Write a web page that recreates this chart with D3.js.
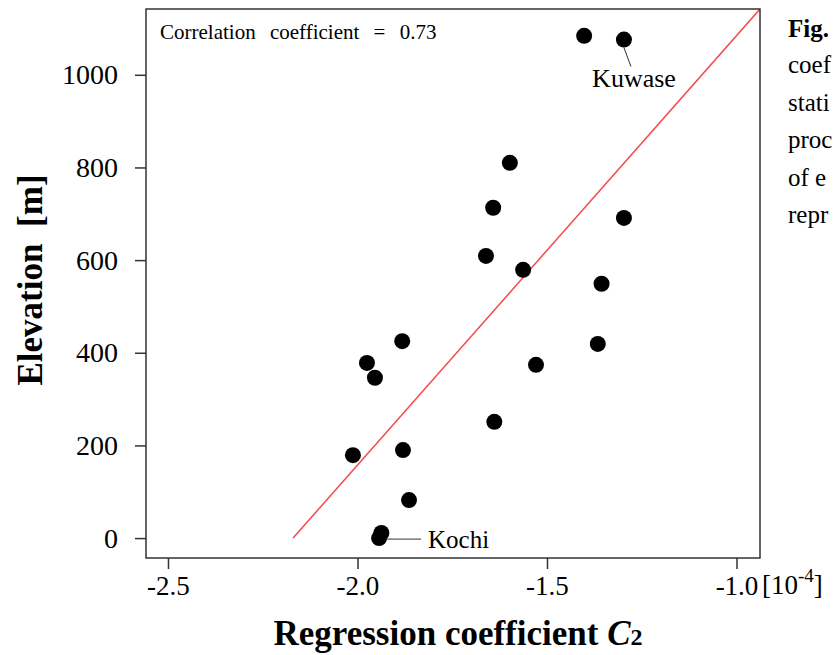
<!DOCTYPE html>
<html>
<head>
<meta charset="utf-8" />
<script src="https://d3js.org/d3.v7.min.js"></script>
<style>
  body { margin: 0; background: #fff; }
  svg text { font-family: 'Liberation Serif', 'Times New Roman', serif; }
</style>
</head>
<body>
<div id="graph"></div>
<script>
  // regression coefficient C2 [10^-4] vs elevation [m]
  var coefX = [-1.402, -1.297, -1.598, -1.642, -1.297, -1.661, -1.563, -1.356, -1.882, -1.975,
               -1.954, -1.366, -1.529, -1.639, -2.012, -1.880, -1.864, -1.937, -1.943]
  var elevY = [1084, 1076, 810, 713, 691, 609, 579, 549, 425, 378,
               346, 419, 374, 251, 179, 190, 82, 11, 0]
  var fitX = [-2.17, -0.938]
  var fitY = [0, 1142]
  var xTicks = [-2.5, -2.0, -1.5, -1.0]
  var yTicks = [0, 200, 400, 600, 800, 1000]
  // caption beside the figure, cut by the page edge
  var captionLines = ['coef', 'stati', 'proc', 'of e', 'repr']

  var box = {left: 146, top: 9, right: 760, bottom: 558}

  var svg = d3.select('#graph').append('svg')
    .attr('width', 835)
    .attr('height', 655)

  var x = d3.scaleLinear().domain([-2.558, -0.938]).range([box.left, box.right])
  var y = d3.scaleLinear().domain([-43, 1142]).range([box.bottom, box.top])

  svg.append('clipPath').attr('id', 'clip')
    .append('rect')
    .attr('x', box.left).attr('y', box.top)
    .attr('width', box.right - box.left).attr('height', box.bottom - box.top)

  // regression line
  svg.append('path')
    .attr('clip-path', 'url(#clip)')
    .attr('d', d3.line()(fitX.map(function (d, i) { return [x(d), y(fitY[i])] })))
    .attr('stroke', '#f5494b')
    .attr('stroke-width', 1.5)
    .attr('fill', 'none')

  // points
  svg.selectAll('circle')
    .data(coefX)
    .enter()
    .append('circle')
    .attr('cx', function (d) { return x(d) })
    .attr('cy', function (d, i) { return y(elevY[i]) })
    .attr('r', 8)
    .attr('fill', '#000')

  // frame
  svg.append('rect')
    .attr('x', box.left).attr('y', box.top)
    .attr('width', box.right - box.left).attr('height', box.bottom - box.top)
    .attr('fill', 'none')
    .attr('stroke', '#333')
    .attr('stroke-width', 1.5)

  // axes
  var xAxis = svg.append('g')
    .attr('transform', 'translate(0,' + box.bottom + ')')
    .call(d3.axisBottom(x).tickValues(xTicks).tickSize(11))
  xAxis.select('.domain').remove()
  xAxis.selectAll('line').attr('stroke', '#333').attr('stroke-width', 1.5)
  xAxis.selectAll('text')
    .attr('font-family', 'Liberation Serif').attr('font-size', 27).attr('fill', '#000')
    .attr('y', 37).attr('dy', 0)
    .text(function (d) { return d3.format('.1f')(d).replace('−', '-') })

  var yAxis = svg.append('g')
    .attr('transform', 'translate(' + box.left + ',0)')
    .call(d3.axisLeft(y).tickValues(yTicks).tickFormat(d3.format('d')).tickSize(11).tickPadding(17))
  yAxis.select('.domain').remove()
  yAxis.selectAll('line').attr('stroke', '#333').attr('stroke-width', 1.5)
  yAxis.selectAll('text')
    .attr('font-family', 'Liberation Serif').attr('font-size', 28).attr('fill', '#000')

  // unit on x axis
  var unit = svg.append('text')
    .attr('x', 762).attr('y', 594)
    .attr('font-size', 27)
  unit.append('tspan').text('[10')
  unit.append('tspan').attr('font-size', 19).attr('dy', -12).text('-4')
  unit.append('tspan').attr('dy', 12).text(']')

  // axis titles
  var xt = svg.append('text')
    .attr('x', 458).attr('y', 645)
    .attr('text-anchor', 'middle')
    .attr('font-size', 35).attr('font-weight', 'bold')
  xt.append('tspan').text('Regression coefficient ')
  xt.append('tspan').attr('font-style', 'italic').text('C')
  xt.append('tspan').attr('font-size', 24).text('2')

  svg.append('text')
    .attr('transform', 'translate(42,280) rotate(-90)')
    .attr('text-anchor', 'middle')
    .attr('font-size', 35).attr('font-weight', 'bold')
    .attr('word-spacing', 8)
    .text('Elevation [m]')

  // annotations
  svg.append('text')
    .attr('x', 160).attr('y', 39)
    .attr('font-size', 21)
    .attr('word-spacing', 9)
    .text('Correlation coefficient = 0.73')

  svg.append('line')
    .attr('x1', x(-1.297)).attr('y1', y(1076) + 8)
    .attr('x2', x(-1.297) + 7).attr('y2', y(1076) + 27)
    .attr('stroke', '#333').attr('stroke-width', 1)
  svg.append('text')
    .attr('x', 634).attr('y', 87)
    .attr('text-anchor', 'middle')
    .attr('font-size', 26)
    .text('Kuwase')

  svg.append('line')
    .attr('x1', x(-1.943) + 7).attr('y1', y(0) + 1)
    .attr('x2', x(-1.943) + 42).attr('y2', y(0) + 1)
    .attr('stroke', '#333').attr('stroke-width', 1)
  svg.append('text')
    .attr('x', 428).attr('y', 548)
    .attr('font-size', 25)
    .text('Kochi')

  // caption fragments at the right edge
  svg.append('text')
    .attr('x', 788).attr('y', 37)
    .attr('font-size', 25).attr('font-weight', 'bold')
    .text('Fig.')
  svg.selectAll('.cap')
    .data(captionLines)
    .enter()
    .append('text')
    .attr('class', 'cap')
    .attr('x', 788)
    .attr('y', function (d, i) { return 73 + i * 37.5 })
    .attr('font-size', 25)
    .text(function (d) { return d })
</script>
</body>
</html>
